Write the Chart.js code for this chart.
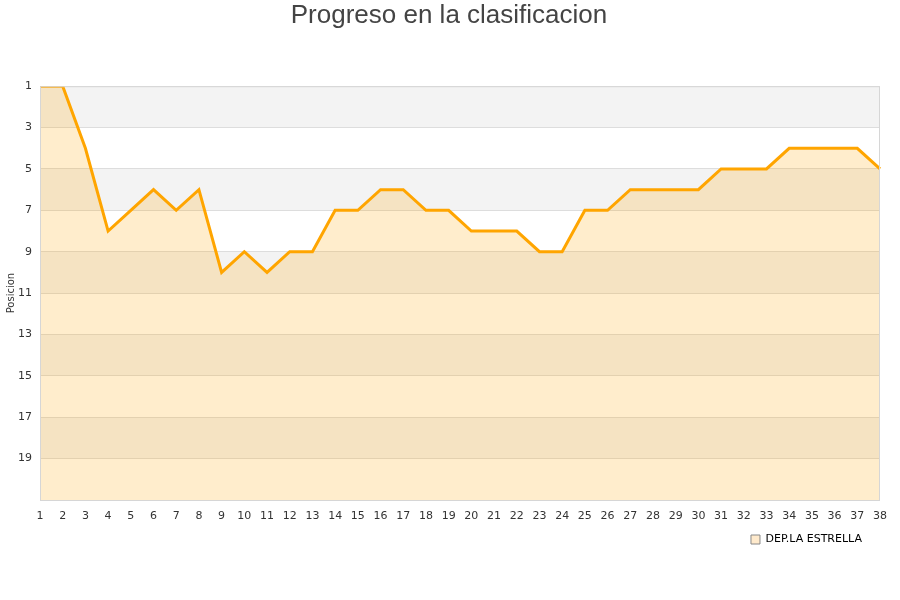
<!DOCTYPE html>
<html>
<head>
<meta charset="utf-8">
<script src="https://cdn.jsdelivr.net/npm/chart.js@4/dist/chart.umd.min.js"></script>
<style>
  html, body { margin: 0; padding: 0; background: #fff; }
  #wrap { width: 900px; height: 600px; }
</style>
</head>
<body>
<div id="wrap"><canvas id="posChart"></canvas></div>
<script>
const jornadas = ['1','2','3','4','5','6','7','8','9','10','11','12','13','14','15','16','17','18','19',
  '20','21','22','23','24','25','26','27','28','29','30','31','32','33','34','35','36','37','38'];
const posiciones = [1,1,4,8,7,6,7,6,10,9,10,9,9,7,7,6,6,7,7,8,8,8,9,9,7,7,6,6,6,6,5,5,5,4,4,4,4,5];
const equipo = 'DEP.LA ESTRELLA';
const yTicks = [1,3,5,7,9,11,13,15,17,19];

// alternating grey/white bands behind the plot + outer frame
const bandsPlugin = {
  id: 'bands',
  afterLayout(chart) {
    // nudge title and legend to where the original sits
    chart.titleBlock.left = 18;
    chart.legend.right = 872;
  },
  beforeDraw(chart) {
    const { ctx, chartArea: a, scales: { y } } = chart;
    ctx.save();
    for (let i = 0; i < yTicks.length; i += 2) {
      const t = yTicks[i];
      const top = y.getPixelForValue(t);
      const bot = y.getPixelForValue(t + 2);
      ctx.fillStyle = '#f3f3f3';
      ctx.fillRect(a.left, top, a.right - a.left, bot - top);
    }
    ctx.restore();
  },
  afterDraw(chart) {
    const { ctx, chartArea: a } = chart;
    ctx.save();
    ctx.strokeStyle = '#d6d6d6';
    ctx.lineWidth = 1;
    ctx.strokeRect(a.left + 0.5, a.top + 0.5, a.right - a.left - 1, a.bottom - a.top);
    ctx.restore();
  }
};

const ctx = document.getElementById('posChart').getContext('2d');
const myChart = new Chart(ctx, {
  type: 'line',
  data: {
    labels: jornadas,
    datasets: [{
      label: equipo,
      data: posiciones,
      borderColor: '#ffa500',
      backgroundColor: 'rgba(255, 165, 0, 0.2)',
      borderWidth: 3,
      pointRadius: 0,
      tension: 0,
      fill: { value: 21 }
    }]
  },
  options: {
    responsive: true,
    maintainAspectRatio: false,
    animation: false,
    layout: { padding: { left: 0, right: 20, top: 0, bottom: 45 } },
    plugins: {
      title: {
        display: true,
        text: 'Progreso en la clasificacion',
        color: '#444',
        font: { family: 'Liberation Sans', size: 26, weight: 'normal' },
        padding: { top: 0, bottom: 55 }
      },
      legend: {
        position: 'bottom',
        align: 'end',
        labels: {
          boxWidth: 9,
          boxHeight: 9,
          color: '#111',
          font: { family: 'DejaVu Sans', size: 11 },
          generateLabels(chart) {
            return chart.data.datasets.map((ds, i) => ({
              text: ds.label,
              fillStyle: '#ffeacc',
              strokeStyle: '#888',
              lineWidth: 1,
              datasetIndex: i
            }));
          }
        }
      },
      tooltip: { enabled: false }
    },
    scales: {
      x: {
        offset: false,
        grid: { display: false, drawTicks: false },
        border: { display: false },
        ticks: {
          autoSkip: false,
          maxRotation: 0,
          color: '#333',
          padding: 10,
          font: { family: 'DejaVu Sans', size: 11 }
        },
        afterFit(scale) { scale.height = 24; }
      },
      y: {
        reverse: true,
        min: 1,
        max: 21,
        border: { display: false },
        grid: { color: '#dddddd', drawTicks: false },
        title: {
          display: true,
          text: 'Posicion',
          color: '#333',
          font: { family: 'DejaVu Sans', size: 10 },
          padding: { top: 5, bottom: 0 }
        },
        ticks: {
          stepSize: 2,
          color: '#333',
          padding: 8,
          font: { family: 'DejaVu Sans', size: 11 },
          callback: (v) => (yTicks.includes(v) ? v : '')
        },
        afterFit(scale) { scale.width = 40; }
      }
    }
  },
  plugins: [bandsPlugin]
});
</script>
</body>
</html>
